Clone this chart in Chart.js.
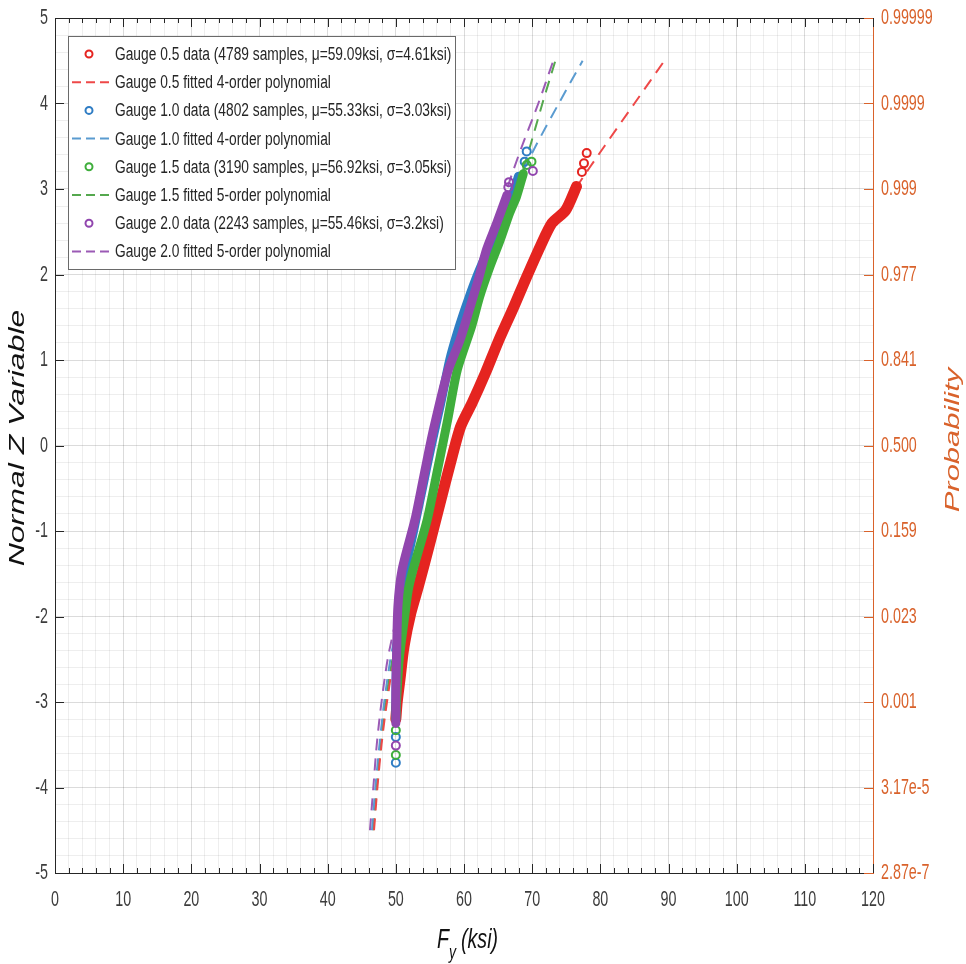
<!DOCTYPE html>
<html>
<head>
<meta charset="utf-8">
<script src="https://cdn.jsdelivr.net/npm/chart.js@4.4.0/dist/chart.umd.min.js"></script>
<style>
  html, body { margin: 0; padding: 0; background: #fff; }
</style>
</head>
<body>
<canvas id="c" width="966" height="964"></canvas>
<script>
// gauge info (legend)
const gauges = ['0.5', '1.0', '1.5', '2.0'];
const samples = [4789, 4802, 3190, 2243];
const mu = [59.09, 55.33, 56.92, 55.46];
const sigma = [4.61, 3.03, 3.05, 3.2];
const fitOrder = [4, 4, 5, 5];

// right axis labels
const probLabels = ['2.87e-7', '3.17e-5', '0.001', '0.023', '0.159', '0.500',
                    '0.841', '0.977', '0.999', '0.9999', '0.99999'];

// sample data: [Fy, z]
const g05Band = [[50.0,-3.2],[50.2,-3.0],[50.6,-2.74],[51.2,-2.35],[52.2,-1.96],[53.3,-1.65],
  [55.0,-1.14],[56.5,-0.67],[58.0,-0.21],[59.5,0.22],[61.2,0.5],[63.1,0.84],[65.1,1.23],
  [67.3,1.62],[68.8,1.90],[71.2,2.33],[72.9,2.60],[74.9,2.75],[76.5,3.03]];
const g05Tail = [[77.3,3.20],[77.6,3.30],[78.0,3.42]];

const g10Band = [[50.0,-3.2],[50.0,-3.0],[50.1,-2.5],[50.5,-2.0],[51.3,-1.5],[52.6,-1.0],
  [53.9,-0.5],[55.2,0.0],[56.6,0.5],[57.9,1.0],[59.3,1.39],[60.6,1.7],[62.0,2.0],[63.6,2.3],
  [65.3,2.6],[67.0,2.9],[68.0,3.15]];
const g10Tail = [[50.0,-3.71],[50.0,-3.41],[68.9,3.32],[69.2,3.44]];

const g15Band = [[50.0,-3.2],[50.1,-3.0],[50.5,-2.5],[51.3,-2.0],[51.8,-1.7],[52.5,-1.46],
  [54.6,-0.87],[56.1,-0.29],[57.6,0.30],[59.0,0.88],[61.1,1.39],[62.3,1.74],[63.8,2.09],
  [65.3,2.40],[66.7,2.72],[67.7,2.91],[68.7,3.18]];
const g15Tail = [[50.0,-3.62],[50.0,-3.33],[69.2,3.28],[69.9,3.32]];

const g20Band = [[50.0,-3.25],[50.0,-2.9],[50.1,-2.5],[50.3,-1.89],[50.9,-1.46],[52.8,-0.87],
  [54.1,-0.36],[55.5,0.18],[57.6,0.86],[59.4,1.23],[60.9,1.62],[62.1,1.94],[63.3,2.29],
  [64.8,2.60],[66.3,2.93]];
const g20Tail = [[50.0,-3.51],[66.5,3.02],[66.6,3.08],[70.1,3.21]];

// fitted polynomials, Fy at each z
const fitZ   = [-4.5,-4,-3.5,-3,-2.5,-2,-1.5,-1,-0.5,0,0.5,1,1.5,2,2.5,3,3.5,4,4.5];
const fit05X = [46.8,47.3,47.9,48.7,49.8,52.1,53.8,55.4,57.0,58.7,60.9,63.9,66.6,69.3,72.3,76.3,80.6,85.0,89.4];
const fit10X = [46.5,47.0,47.6,48.3,49.2,50.4,51.4,52.6,53.9,55.2,56.6,58.0,59.7,61.9,64.6,67.4,70.5,73.9,77.4];
const fit15X = [46.7,47.2,47.8,48.5,49.5,50.9,52.6,54.3,55.6,56.9,58.2,59.8,61.5,63.4,65.7,67.8,69.7,71.5,73.4];
const fit20X = [46.2,46.7,47.2,47.9,48.8,50.1,51.1,52.5,53.8,55.1,56.5,58.2,60.4,62.4,64.4,66.3,68.5,70.9,73.1];

const colors = ['#E52420', '#2F7DC4', '#3FAE3C', '#9146AE'];
const fitColors = ['#EE4848', '#5A9BD0', '#55A84E', '#9B5AB5'];
const orange = '#D9622B';
const axisCol = '#262626';
const sans = "'Liberation Sans', Arial, sans-serif";

const toXY = arr => arr.map(p => ({ x: p[0], y: p[1] }));
const fitXY = xs => xs.map((x, i) => ({ x: x, y: fitZ[i] }));

const bands = [g05Band, g10Band, g15Band, g20Band];
const tails = [g05Tail, g10Tail, g15Tail, g20Tail];
const fits = [fit05X, fit10X, fit15X, fit20X];

const datasets = [];
for (let i = 0; i < 4; i++) {
  datasets.push({
    data: toXY(tails[i]), order: (3 - i) * 2,
    pointRadius: 4, pointBorderWidth: 2, pointBorderColor: colors[i],
    pointBackgroundColor: 'rgba(255,255,255,0)', showLine: false
  });
  datasets.push({
    data: toXY(bands[i]), order: (3 - i) * 2 + 1,
    showLine: true, borderColor: colors[i], borderWidth: i === 0 ? 11 : 9,
    pointRadius: 0, tension: 0.25, borderCapStyle: 'round', borderJoinStyle: 'round', fill: false
  });
  datasets.push({
    data: fitXY(fits[i]), order: 20 + i,
    showLine: true, borderColor: fitColors[i], borderWidth: 2, borderDash: [12, 8],
    pointRadius: 0, tension: 0.3, fill: false
  });
}

const isInt = v => Math.abs(v - Math.round(v)) < 1e-6;

// text squeezed horizontally like the source figure
function scaledText(ctx, txt, x, y, font, color, align, sx, rot) {
  ctx.save();
  ctx.font = font;
  ctx.fillStyle = color;
  ctx.textAlign = align;
  ctx.textBaseline = 'middle';
  ctx.translate(x, y);
  if (rot) { ctx.rotate(rot); ctx.scale(1, sx); } else { ctx.scale(sx, 1); }
  ctx.fillText(txt, 0, 0);
  ctx.restore();
}

const deco = {
  id: 'deco',
  afterDraw(chart) {
    const ctx = chart.ctx;
    const a = chart.chartArea;
    const xs = chart.scales.x, ys = chart.scales.y, y2 = chart.scales.y2;
    ctx.save();
    ctx.lineWidth = 1;
    // top border
    ctx.strokeStyle = axisCol;
    ctx.beginPath();
    ctx.moveTo(a.left, a.top + 0.5); ctx.lineTo(a.right, a.top + 0.5);
    ctx.stroke();
    // x ticks inward, bottom and top
    ctx.beginPath();
    for (let v = 0; v <= 120; v += 2) {
      const px = Math.round(xs.getPixelForValue(v)) + 0.5;
      const len = v % 10 === 0 ? 9 : 5;
      ctx.moveTo(px, a.bottom); ctx.lineTo(px, a.bottom - len);
      ctx.moveTo(px, a.top); ctx.lineTo(px, a.top + len);
    }
    // left ticks
    for (let v = -5; v <= 5; v++) {
      const py = Math.round(ys.getPixelForValue(v)) + 0.5;
      ctx.moveTo(a.left, py); ctx.lineTo(a.left + 9, py);
    }
    ctx.stroke();
    // right ticks
    ctx.strokeStyle = orange;
    ctx.beginPath();
    for (let v = -5; v <= 5; v++) {
      const py = Math.round(ys.getPixelForValue(v)) + 0.5;
      ctx.moveTo(a.right, py); ctx.lineTo(a.right - 9, py);
    }
    ctx.stroke();

    // tick labels from the scales, squeezed
    const tf = '22px ' + sans;
    xs.ticks.forEach(t => {
      if (t.label) scaledText(ctx, t.label, xs.getPixelForValue(t.value), 900, tf, '#3c3c3c', 'center', 0.65);
    });
    ys.ticks.forEach(t => {
      if (t.label) scaledText(ctx, t.label, 48, ys.getPixelForValue(t.value), tf, '#3c3c3c', 'right', 0.65);
    });
    y2.ticks.forEach(t => {
      if (t.label) scaledText(ctx, t.label, 881, y2.getPixelForValue(t.value), tf, orange, 'left', 0.65);
    });

    // axis titles
    scaledText(ctx, 'Normal Z Variable', 18, 438, 'italic 32px ' + sans, '#111', 'center', 0.68, -Math.PI / 2);
    scaledText(ctx, 'Probability', 953, 440, 'italic 31px ' + sans, orange, 'center', 0.68, -Math.PI / 2);
    scaledText(ctx, 'F', 437, 940, 'italic 28px ' + sans, '#111', 'left', 0.7);
    scaledText(ctx, 'y', 449, 953, 'italic 20px ' + sans, '#111', 'left', 0.7);
    scaledText(ctx, '(ksi)', 461, 940, 'italic 28px ' + sans, '#111', 'left', 0.7);

    // legend
    const bx = 68.5, by = 36.5, bw = 387, bh = 233;
    ctx.fillStyle = '#fff';
    ctx.fillRect(bx, by, bw, bh);
    ctx.strokeStyle = '#6a6a6a';
    ctx.strokeRect(bx, by, bw, bh);
    for (let i = 0; i < 4; i++) {
      const yData = 54 + i * 2 * 28.2;
      const yFit = yData + 28.2;
      ctx.strokeStyle = colors[i];
      ctx.lineWidth = 2;
      ctx.setLineDash([]);
      ctx.beginPath();
      ctx.arc(89, yData, 3.5, 0, Math.PI * 2);
      ctx.stroke();
      ctx.strokeStyle = fitColors[i];
      ctx.setLineDash([9, 5]);
      ctx.beginPath();
      ctx.moveTo(72, yFit); ctx.lineTo(113, yFit);
      ctx.stroke();
      ctx.setLineDash([]);
      const t1 = 'Gauge ' + gauges[i] + ' data (' + samples[i] + ' samples, \u03bc=' + mu[i] +
                 'ksi, \u03c3=' + sigma[i] + 'ksi)';
      const t2 = 'Gauge ' + gauges[i] + ' fitted ' + fitOrder[i] + '-order polynomial';
      scaledText(ctx, t1, 115, yData + 1, '18px ' + sans, '#262626', 'left', 0.765);
      scaledText(ctx, t2, 115, yFit + 1, '18px ' + sans, '#262626', 'left', 0.765);
    }
    ctx.restore();
  }
};

const hidden = 'rgba(0,0,0,0)';

new Chart(document.getElementById('c'), {
  type: 'scatter',
  data: { datasets: datasets },
  options: {
    responsive: false,
    animation: false,
    events: [],
    layout: { padding: { top: 18, left: 0, right: 0, bottom: 0 } },
    plugins: { legend: { display: false }, tooltip: { enabled: false } },
    scales: {
      x: {
        type: 'linear', min: 0, max: 120,
        afterFit: s => { s.height = 91; },
        border: { color: axisCol, width: 1 },
        grid: {
          drawTicks: false,
          color: c => c.tick.value % 10 === 0 ? 'rgba(0,0,0,0.14)' : 'rgba(0,0,0,0.065)'
        },
        ticks: {
          stepSize: 2, autoSkip: false, maxTicksLimit: 200, maxRotation: 0, padding: 15,
          color: hidden, font: { family: sans, size: 14 },
          callback: v => (v % 10 === 0 ? String(v) : '')
        }
      },
      y: {
        type: 'linear', position: 'left', min: -5, max: 5,
        afterFit: s => { s.width = 55; },
        border: { color: axisCol, width: 1 },
        grid: {
          drawTicks: false,
          color: c => isInt(c.tick.value) ? 'rgba(0,0,0,0.14)' : 'rgba(0,0,0,0.065)'
        },
        ticks: {
          stepSize: 0.2, autoSkip: false, maxTicksLimit: 200, padding: 7,
          color: hidden, font: { family: sans, size: 14 },
          callback: v => (isInt(v) ? String(Math.round(v)) : '')
        }
      },
      y2: {
        type: 'linear', position: 'right', min: -5, max: 5,
        afterFit: s => { s.width = 93; },
        border: { color: orange, width: 1 },
        grid: { display: false, drawTicks: false },
        ticks: {
          stepSize: 1, autoSkip: false, padding: 8,
          color: hidden, font: { family: sans, size: 14 },
          callback: v => probLabels[Math.round(v) + 5]
        }
      }
    }
  },
  plugins: [deco]
});
</script>
</body>
</html>
